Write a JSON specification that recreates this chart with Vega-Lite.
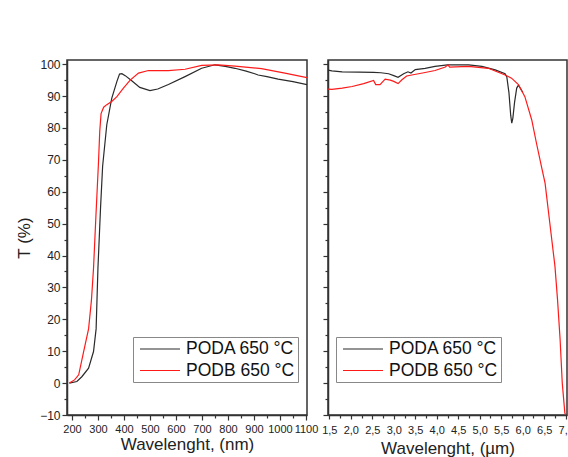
{
  "$schema": "https://vega.github.io/schema/vega-lite/v6.json",
  "padding": {"left": 14, "top": 57, "right": 0, "bottom": 0},
  "config": {
    "font": "Liberation Sans",
    "view": {"stroke": "#333", "strokeWidth": 1.5},
    "axis": {"grid": false, "domainColor": "#333", "tickColor": "#333", "labelColor": "#222", "titleColor": "#222", "labelFont": "Liberation Sans", "titleFont": "Liberation Sans", "titleFontWeight": "normal", "labelFlush": false, "labelOverlap": false, "domainWidth": 1.5, "tickWidth": 1.2},
    "legend": {"labelFont": "Liberation Sans"}
  },
  "datasets": {
    "uv": [
      {"x": 190, "T": 0, "s": "PODA 650 °C"},
      {"x": 219, "T": 0.5, "s": "PODA 650 °C"},
      {"x": 238, "T": 2, "s": "PODA 650 °C"},
      {"x": 264, "T": 4.7, "s": "PODA 650 °C"},
      {"x": 283, "T": 9.9, "s": "PODA 650 °C"},
      {"x": 293, "T": 17, "s": "PODA 650 °C"},
      {"x": 300, "T": 36, "s": "PODA 650 °C"},
      {"x": 310, "T": 55, "s": "PODA 650 °C"},
      {"x": 318, "T": 68, "s": "PODA 650 °C"},
      {"x": 334, "T": 81, "s": "PODA 650 °C"},
      {"x": 353, "T": 89.3, "s": "PODA 650 °C"},
      {"x": 373, "T": 94.6, "s": "PODA 650 °C"},
      {"x": 383, "T": 96.9, "s": "PODA 650 °C"},
      {"x": 392, "T": 97, "s": "PODA 650 °C"},
      {"x": 405, "T": 96.4, "s": "PODA 650 °C"},
      {"x": 430, "T": 94.8, "s": "PODA 650 °C"},
      {"x": 461, "T": 92.7, "s": "PODA 650 °C"},
      {"x": 500, "T": 91.7, "s": "PODA 650 °C"},
      {"x": 530, "T": 92.2, "s": "PODA 650 °C"},
      {"x": 571, "T": 93.6, "s": "PODA 650 °C"},
      {"x": 635, "T": 96.1, "s": "PODA 650 °C"},
      {"x": 699, "T": 98.7, "s": "PODA 650 °C"},
      {"x": 750, "T": 99.8, "s": "PODA 650 °C"},
      {"x": 790, "T": 99.3, "s": "PODA 650 °C"},
      {"x": 827, "T": 98.7, "s": "PODA 650 °C"},
      {"x": 870, "T": 97.8, "s": "PODA 650 °C"},
      {"x": 903, "T": 97, "s": "PODA 650 °C"},
      {"x": 916, "T": 96.6, "s": "PODA 650 °C"},
      {"x": 950, "T": 96.1, "s": "PODA 650 °C"},
      {"x": 993, "T": 95.3, "s": "PODA 650 °C"},
      {"x": 1050, "T": 94.5, "s": "PODA 650 °C"},
      {"x": 1104, "T": 93.6, "s": "PODA 650 °C"},
      {"x": 190, "T": 0, "s": "PODB 650 °C"},
      {"x": 210, "T": 1, "s": "PODB 650 °C"},
      {"x": 226, "T": 2.6, "s": "PODB 650 °C"},
      {"x": 245, "T": 9.9, "s": "PODB 650 °C"},
      {"x": 264, "T": 17, "s": "PODB 650 °C"},
      {"x": 275, "T": 26, "s": "PODB 650 °C"},
      {"x": 283, "T": 36, "s": "PODB 650 °C"},
      {"x": 292, "T": 52, "s": "PODB 650 °C"},
      {"x": 302, "T": 69, "s": "PODB 650 °C"},
      {"x": 307, "T": 79, "s": "PODB 650 °C"},
      {"x": 312, "T": 84.5, "s": "PODB 650 °C"},
      {"x": 322, "T": 86.5, "s": "PODB 650 °C"},
      {"x": 334, "T": 87.3, "s": "PODB 650 °C"},
      {"x": 353, "T": 88.3, "s": "PODB 650 °C"},
      {"x": 373, "T": 89.8, "s": "PODB 650 °C"},
      {"x": 398, "T": 92.5, "s": "PODB 650 °C"},
      {"x": 424, "T": 95, "s": "PODB 650 °C"},
      {"x": 456, "T": 97.2, "s": "PODB 650 °C"},
      {"x": 494, "T": 98, "s": "PODB 650 °C"},
      {"x": 571, "T": 98, "s": "PODB 650 °C"},
      {"x": 635, "T": 98.4, "s": "PODB 650 °C"},
      {"x": 699, "T": 99.6, "s": "PODB 650 °C"},
      {"x": 763, "T": 99.8, "s": "PODB 650 °C"},
      {"x": 827, "T": 99.4, "s": "PODB 650 °C"},
      {"x": 929, "T": 98.6, "s": "PODB 650 °C"},
      {"x": 1019, "T": 97.2, "s": "PODB 650 °C"},
      {"x": 1104, "T": 95.8, "s": "PODB 650 °C"}
    ],
    "ir": [
      {"x": 1.47, "T": 98.1, "s": "PODA 650 °C"},
      {"x": 1.56, "T": 97.9, "s": "PODA 650 °C"},
      {"x": 1.8, "T": 97.6, "s": "PODA 650 °C"},
      {"x": 2.2, "T": 97.5, "s": "PODA 650 °C"},
      {"x": 2.53, "T": 97.4, "s": "PODA 650 °C"},
      {"x": 2.7, "T": 97.3, "s": "PODA 650 °C"},
      {"x": 2.88, "T": 97, "s": "PODA 650 °C"},
      {"x": 3.0, "T": 96.4, "s": "PODA 650 °C"},
      {"x": 3.1, "T": 95.9, "s": "PODA 650 °C"},
      {"x": 3.23, "T": 97, "s": "PODA 650 °C"},
      {"x": 3.33, "T": 97.6, "s": "PODA 650 °C"},
      {"x": 3.4, "T": 97.2, "s": "PODA 650 °C"},
      {"x": 3.5, "T": 98.3, "s": "PODA 650 °C"},
      {"x": 3.73, "T": 98.7, "s": "PODA 650 °C"},
      {"x": 3.96, "T": 99.3, "s": "PODA 650 °C"},
      {"x": 4.25, "T": 99.8, "s": "PODA 650 °C"},
      {"x": 4.74, "T": 99.8, "s": "PODA 650 °C"},
      {"x": 5.05, "T": 99.3, "s": "PODA 650 °C"},
      {"x": 5.36, "T": 98.2, "s": "PODA 650 °C"},
      {"x": 5.59, "T": 97, "s": "PODA 650 °C"},
      {"x": 5.63, "T": 96, "s": "PODA 650 °C"},
      {"x": 5.68, "T": 91, "s": "PODA 650 °C"},
      {"x": 5.72, "T": 84, "s": "PODA 650 °C"},
      {"x": 5.745, "T": 81.5, "s": "PODA 650 °C"},
      {"x": 5.77, "T": 83, "s": "PODA 650 °C"},
      {"x": 5.81, "T": 88, "s": "PODA 650 °C"},
      {"x": 5.86, "T": 92.5, "s": "PODA 650 °C"},
      {"x": 5.9, "T": 93.4, "s": "PODA 650 °C"},
      {"x": 6.0, "T": 91.2, "s": "PODA 650 °C"},
      {"x": 1.47, "T": 92.2, "s": "PODB 650 °C"},
      {"x": 1.56, "T": 92.1, "s": "PODB 650 °C"},
      {"x": 1.8, "T": 92.5, "s": "PODB 650 °C"},
      {"x": 2.03, "T": 93, "s": "PODB 650 °C"},
      {"x": 2.3, "T": 93.9, "s": "PODB 650 °C"},
      {"x": 2.53, "T": 94.9, "s": "PODB 650 °C"},
      {"x": 2.58, "T": 93.6, "s": "PODB 650 °C"},
      {"x": 2.68, "T": 93.6, "s": "PODB 650 °C"},
      {"x": 2.8, "T": 95.3, "s": "PODB 650 °C"},
      {"x": 2.92, "T": 95, "s": "PODB 650 °C"},
      {"x": 3.0, "T": 94.6, "s": "PODB 650 °C"},
      {"x": 3.1, "T": 93.9, "s": "PODB 650 °C"},
      {"x": 3.19, "T": 95.1, "s": "PODB 650 °C"},
      {"x": 3.3, "T": 96.3, "s": "PODB 650 °C"},
      {"x": 3.42, "T": 96.6, "s": "PODB 650 °C"},
      {"x": 3.7, "T": 97.3, "s": "PODB 650 °C"},
      {"x": 3.96, "T": 98, "s": "PODB 650 °C"},
      {"x": 4.2, "T": 99.1, "s": "PODB 650 °C"},
      {"x": 4.26, "T": 99.8, "s": "PODB 650 °C"},
      {"x": 4.3, "T": 99.1, "s": "PODB 650 °C"},
      {"x": 4.74, "T": 99.3, "s": "PODB 650 °C"},
      {"x": 5.2, "T": 98.7, "s": "PODB 650 °C"},
      {"x": 5.59, "T": 96.6, "s": "PODB 650 °C"},
      {"x": 5.74, "T": 95.6, "s": "PODB 650 °C"},
      {"x": 5.9, "T": 93.6, "s": "PODB 650 °C"},
      {"x": 6.05, "T": 89.8, "s": "PODB 650 °C"},
      {"x": 6.21, "T": 82.5, "s": "PODB 650 °C"},
      {"x": 6.32, "T": 75.2, "s": "PODB 650 °C"},
      {"x": 6.45, "T": 67, "s": "PODB 650 °C"},
      {"x": 6.52, "T": 62.7, "s": "PODB 650 °C"},
      {"x": 6.63, "T": 50.2, "s": "PODB 650 °C"},
      {"x": 6.75, "T": 36.6, "s": "PODB 650 °C"},
      {"x": 6.81, "T": 26.1, "s": "PODB 650 °C"},
      {"x": 6.87, "T": 13.6, "s": "PODB 650 °C"},
      {"x": 6.92, "T": 0, "s": "PODB 650 °C"},
      {"x": 6.98, "T": -9.4, "s": "PODB 650 °C"},
      {"x": 7.0, "T": -10, "s": "PODB 650 °C"}
    ]
  },
  "spacing": 21,
  "bounds": "flush",
  "resolve": {"scale": {"color": "independent"}, "legend": {"color": "independent"}},
  "hconcat": [
    {
      "width": 240,
      "height": 355,
      "data": {"name": "uv"},
      "resolve": {"axis": {"x": "independent", "y": "independent"}},
      "layer": [
        {
          "mark": {"type": "line", "strokeWidth": 1.2, "clip": true},
          "encoding": {
            "x": {"field": "x", "type": "quantitative", "scale": {"domain": [181, 1104], "nice": false, "zero": false},
              "axis": {"orient": "bottom", "values": [200, 300, 400, 500, 600, 700, 800, 900, 1000, 1100], "format": "d", "title": "Wavelenght, (nm)", "tickSize": 5, "labelFontSize": 11, "labelPadding": 3, "titleFontSize": 17, "titlePadding": 2}},
            "y": {"field": "T", "type": "quantitative", "scale": {"domain": [-10, 101.3], "nice": false, "zero": false},
              "axis": {"orient": "left", "values": [-10, 0, 10, 20, 30, 40, 50, 60, 70, 80, 90, 100], "title": "T (%)", "tickSize": 5, "labelFontSize": 12, "labelPadding": 2, "titleFontSize": 17, "titlePadding": 6}},
            "color": {"field": "s", "type": "nominal", "scale": {"domain": ["PODA 650 °C", "PODB 650 °C"], "range": ["#2a2a2a", "#ff1a1a"]},
              "legend": {"title": null, "orient": "none", "legendX": 66, "legendY": 277, "strokeColor": "#888", "fillColor": "white", "padding": 3, "symbolType": "M-2.5,0H2.5", "symbolSize": 256, "symbolStrokeWidth": 1.2, "symbolOffset": 15, "labelFontSize": 17.5, "labelOffset": 17, "rowPadding": 3.5, "labelColor": "#111"}}
          }
        },
        {
          "mark": {"type": "line", "opacity": 0},
          "encoding": {
            "x": {"field": "x", "type": "quantitative",
              "axis": {"orient": "bottom", "values": [250, 350, 450, 550, 650, 750, 850, 950, 1050], "labels": false, "title": null, "domain": false, "tickSize": 3}},
            "y": {"field": "T", "type": "quantitative",
              "axis": {"orient": "left", "values": [-5, 5, 15, 25, 35, 45, 55, 65, 75, 85, 95], "labels": false, "title": null, "domain": false, "tickSize": 3}}
          }
        }
      ]
    },
    {
      "width": 239,
      "height": 355,
      "data": {"name": "ir"},
      "resolve": {"axis": {"x": "independent", "y": "independent"}},
      "layer": [
        {
          "mark": {"type": "line", "strokeWidth": 1.2, "clip": true},
          "encoding": {
            "x": {"field": "x", "type": "quantitative", "scale": {"domain": [1.47, 7.03], "nice": false, "zero": false},
              "axis": {"orient": "bottom", "values": [1.5, 2, 2.5, 3, 3.5, 4, 4.5, 5, 5.5, 6, 6.5, 7], "labelExpr": "replace(format(datum.value, '.1f'), '.', ',')", "title": "Wavelenght, (µm)", "tickSize": 4, "labelFontSize": 11, "labelPadding": 5, "titleFontSize": 17, "titlePadding": 5}},
            "y": {"field": "T", "type": "quantitative", "scale": {"domain": [-10, 101.3], "nice": false, "zero": false},
              "axis": {"orient": "left", "values": [-10, 0, 10, 20, 30, 40, 50, 60, 70, 80, 90, 100], "labels": false, "title": null, "tickSize": 5}},
            "color": {"field": "s", "type": "nominal", "scale": {"domain": ["PODA 650 °C", "PODB 650 °C"], "range": ["#2a2a2a", "#ff1a1a"]},
              "legend": {"title": null, "orient": "none", "legendX": 8, "legendY": 277, "strokeColor": "#888", "fillColor": "white", "padding": 3, "symbolType": "M-2.5,0H2.5", "symbolSize": 256, "symbolStrokeWidth": 1.2, "symbolOffset": 15, "labelFontSize": 17.5, "labelOffset": 17, "rowPadding": 3.5, "labelColor": "#111"}}
          }
        },
        {
          "mark": {"type": "line", "opacity": 0},
          "encoding": {
            "x": {"field": "x", "type": "quantitative",
              "axis": {"orient": "bottom", "values": [1.75, 2.25, 2.75, 3.25, 3.75, 4.25, 4.75, 5.25, 5.75, 6.25, 6.75], "labels": false, "title": null, "domain": false, "tickSize": 3}},
            "y": {"field": "T", "type": "quantitative",
              "axis": {"orient": "left", "values": [-5, 5, 15, 25, 35, 45, 55, 65, 75, 85, 95], "labels": false, "title": null, "domain": false, "tickSize": 3}}
          }
        }
      ]
    }
  ]
}
